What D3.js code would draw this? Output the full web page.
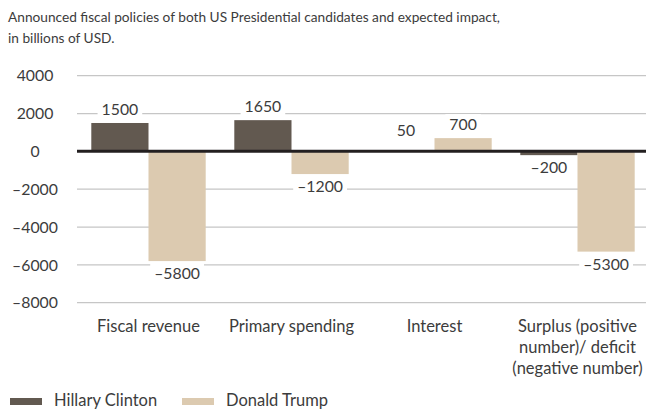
<!DOCTYPE html>
<html>
<head>
<meta charset="utf-8">
<script src="https://cdnjs.cloudflare.com/ajax/libs/d3/7.8.5/d3.min.js"></script>
<style>
    body { margin: 0; background: #fff; }
    text { font-family: Lato, "Open Sans", sans-serif; fill: #3c3c3c; }
</style>
</head>
<body>
<script>
// chart data
var categories = ["Fiscal revenue", "Primary spending", "Interest",
    "Surplus (positive\nnumber)/ deficit\n(negative number)"];
var series = ["Hillary Clinton", "Donald Trump"];
var clinton = [1500, 1650, 50, -200];
var trump = [-5800, -1200, 700, -5300];
var yTicks = [4000, 2000, 0, -2000, -4000, -6000, -8000];
var colors = ["#625950", "#dccab0"];

var width = 646,
    height = 411;

var svg = d3.select("body").append("svg")
    .attr("width", width)
    .attr("height", height);

// title
svg.append("text")
    .attr("x", 8)
    .attr("y", 22)
    .style("font-size", "13.7px")
    .text("Announced fiscal policies of both US Presidential candidates and expected impact,");
svg.append("text")
    .attr("x", 8)
    .attr("y", 43)
    .style("font-size", "13.7px")
    .text("in billions of USD.");

var x = d3.scaleBand()
    .domain(categories)
    .range([77, 649])
    .paddingInner(0.2)
    .paddingOuter(0.1);

var x1 = d3.scaleBand()
    .domain(series)
    .range([0, x.bandwidth()]);

var y = d3.scaleLinear()
    .domain([-8000, 4000])
    .range([302.7, 75.7]);

// gridlines
svg.append("g")
    .selectAll("line")
    .data(yTicks.filter(function(d) { return d !== 0; }))
    .enter().append("line")
    .attr("x1", 77)
    .attr("x2", width)
    .attr("y1", function(d) { return y(d); })
    .attr("y2", function(d) { return y(d); })
    .attr("stroke", "#c6c6c6")
    .attr("stroke-width", 1.3);

// y tick labels
svg.append("g")
    .selectAll("text")
    .data(yTicks)
    .enter().append("text")
    .attr("x", 35)
    .attr("y", function(d) { return y(d); })
    .attr("dy", "0.36em")
    .attr("text-anchor", "middle")
    .style("font-size", "15.8px")
    .text(function(d) { return d < 0 ? "\u2013" + Math.abs(d) : d; });

// bars
var rows = categories.map(function(c, i) {
    return { cat: c, vals: [clinton[i], trump[i]] };
});

var groups = svg.append("g")
    .selectAll("g")
    .data(rows)
    .enter().append("g")
    .attr("transform", function(d) { return "translate(" + x(d.cat) + ",0)"; });

groups.selectAll("rect")
    .data(function(d) {
        return d.vals.map(function(v, j) { return { s: series[j], v: v, j: j }; });
    })
    .enter().append("rect")
    .attr("x", function(d) { return x1(d.s); })
    .attr("width", x1.bandwidth())
    .attr("y", function(d) { return y(Math.max(0, d.v)); })
    .attr("height", function(d) { return Math.abs(y(d.v) - y(0)); })
    .attr("fill", function(d) { return colors[d.j]; });

// zero line
svg.append("line")
    .attr("x1", 77)
    .attr("x2", width)
    .attr("y1", y(0))
    .attr("y2", y(0))
    .attr("stroke", "#231f20")
    .attr("stroke-width", 3);

// value labels with white backing
var labels = groups.selectAll("g.lbl")
    .data(function(d) {
        return d.vals.map(function(v, j) { return { s: series[j], v: v, j: j }; });
    })
    .enter().append("g")
    .attr("class", "lbl");

labels.each(function(d) {
    var g = d3.select(this);
    var cx = x1(d.s) + x1.bandwidth() / 2;
    var ty = d.v >= 0 ? y(d.v) - 8 : y(d.v) + 18;
    if (d.v === 50) ty = y(d.v) - 14;
    var t = g.append("text")
        .attr("x", cx)
        .attr("y", ty)
        .attr("text-anchor", "middle")
        .style("font-size", "15.8px")
        .text(d.v < 0 ? "\u2013" + Math.abs(d.v) : d.v);
    var bb = t.node().getBBox();
    g.insert("rect", "text")
        .attr("x", bb.x - 4)
        .attr("y", bb.y)
        .attr("width", bb.width + 8)
        .attr("height", bb.height)
        .attr("fill", "#fff");
});

// category labels
var catText = svg.append("g")
    .selectAll("text")
    .data(categories)
    .enter().append("text")
    .attr("x", function(d) { return x(d) + x.bandwidth() / 2; })
    .attr("y", 331.5)
    .attr("text-anchor", "middle")
    .style("font-size", "16.5px");

catText.selectAll("tspan")
    .data(function(d) { return d.split("\n"); })
    .enter().append("tspan")
    .attr("x", function() { return d3.select(this.parentNode).attr("x"); })
    .attr("dy", function(d, i) { return i === 0 ? 0 : 21; })
    .text(function(d) { return d; });

// legend
var legendX = [10, 182];
var legend = svg.append("g")
    .selectAll("g")
    .data(series)
    .enter().append("g")
    .attr("transform", function(d, i) { return "translate(" + legendX[i] + ",398)"; });

legend.append("rect")
    .attr("width", 32)
    .attr("height", 7)
    .attr("fill", function(d, i) { return colors[i]; });

legend.append("text")
    .attr("x", 44)
    .attr("y", 8)
    .style("font-size", "16.5px")
    .text(function(d) { return d; });
</script>
</body>
</html>
